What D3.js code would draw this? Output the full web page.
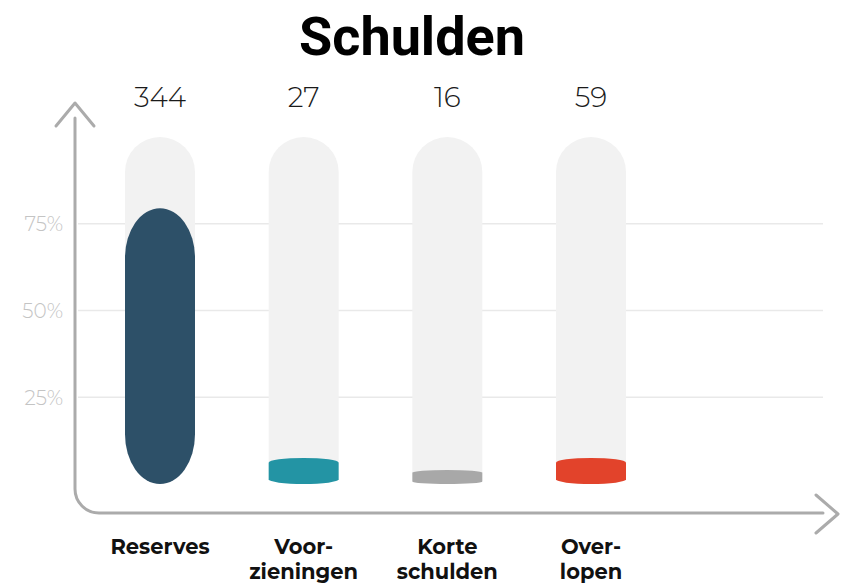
<!DOCTYPE html>
<html>
<head>
<meta charset="utf-8">
<script src="https://cdn.jsdelivr.net/npm/d3@7"></script>
<style>
  html, body { margin: 0; padding: 0; background: #ffffff; }
  svg { display: block; }
</style>
</head>
<body>
<svg id="chart" width="843" height="585"></svg>
<script>
// ---- data ----
const categories = ["Reserves", "Voorzieningen", "Korte schulden", "Overlopen"];
const labelLines = [["Reserves"], ["Voor-", "zieningen"], ["Korte", "schulden"], ["Over-", "lopen"]];
const amounts = [344, 27, 16, 59];
const fillPercent = [79.5, 7.5, 4, 7.5];
const barColors = ["#2d5068", "#2394a4", "#a8a8a8", "#e2432b"];
const tickValues = [25, 50, 75];
const titleText = "Schulden";

// ---- layout ----
const svg = d3.select("#chart");
const barW = 70;

const x = d3.scalePoint().domain(categories).range([160, 591]);
const y = d3.scaleLinear().domain([0, 100]).range([484, 137]);
const axisColor = "#ababab";
const barRy = v => Math.max(2.5, 0.18 * (y(0) - y(v)));

// title
svg.append("text")
  .attr("x", 412).attr("y", 55)
  .attr("text-anchor", "middle")
  .style("font-family", "Roboto, 'Open Sans', sans-serif")
  .style("font-weight", 700)
  .style("font-size", "54px")
  .attr("fill", "#000")
  .text(titleText);

// gridlines + tick labels
const yAxis = d3.axisLeft(y).tickValues(tickValues).tickFormat(d => d + "%").tickSize(0).tickPadding(0);
const gAxis = svg.append("g").attr("transform", "translate(63,0)").call(yAxis);
gAxis.select(".domain").remove();
gAxis.selectAll("text")
  .attr("dy", "0.35em")
  .style("font-family", "Montserrat, Lato, 'Open Sans', sans-serif")
  .style("font-weight", 300)
  .style("font-size", "20px")
  .attr("fill", "#c4c4c4");

svg.append("g").selectAll("line")
  .data(tickValues).join("line")
  .attr("x1", 78).attr("x2", 823)
  .attr("y1", d => y(d)).attr("y2", d => y(d))
  .attr("stroke", "#e9e9e9").attr("stroke-width", 1.5);

// background tracks (rounded top; end hidden under the value bar)
svg.append("g").selectAll("path")
  .data(categories).join("path")
  .attr("d", (d, i) => {
    const cx = x(d), r = barW / 2, top = y(100);
    const bot = y(fillPercent[i]) + barRy(fillPercent[i]);
    return `M${cx - r},${bot} V${top + r} A${r},${r} 0 0 1 ${cx + r},${top + r} V${bot} Z`;
  })
  .attr("fill", "#f2f2f2");

// value bars
svg.append("g").selectAll("rect")
  .data(categories).join("rect")
  .attr("x", d => x(d) - barW / 2)
  .attr("width", barW)
  .attr("y", (d, i) => y(fillPercent[i]))
  .attr("height", (d, i) => y(0) - y(fillPercent[i]))
  .attr("rx", barW / 2)
  .attr("ry", (d, i) => barRy(fillPercent[i]))
  .attr("fill", (d, i) => barColors[i]);

// value labels
svg.append("g").selectAll("text")
  .data(categories).join("text")
  .attr("x", d => x(d)).attr("y", 107)
  .attr("text-anchor", "middle")
  .style("font-family", "Montserrat, Lato, 'Open Sans', sans-serif")
  .style("font-weight", 300)
  .style("font-size", "28px")
  .attr("fill", "#1a1a1a")
  .text((d, i) => amounts[i]);

// category labels
const catG = svg.append("g").selectAll("text")
  .data(categories).join("text")
  .attr("text-anchor", "middle")
  .style("font-family", "Montserrat, 'Open Sans', sans-serif")
  .style("font-weight", 700)
  .style("font-size", "21px")
  .attr("fill", "#111");
catG.each(function(d, i) {
  d3.select(this).selectAll("tspan")
    .data(labelLines[i]).join("tspan")
    .attr("x", x(d))
    .attr("y", (t, j) => 554 + j * 25)
    .text(t => t);
});

// axes with arrows
const axisG = svg.append("g")
  .attr("fill", "none").attr("stroke", axisColor)
  .attr("stroke-width", 3).attr("stroke-linecap", "round").attr("stroke-linejoin", "round");
const r = 24;
axisG.append("path")
  .attr("d", `M75,118 V${513 - r} A${r},${r} 0 0 0 ${75 + r},513 H823`);
axisG.append("path").attr("d", "M56,126 L75,103 L94,126");
axisG.append("path").attr("d", "M816,495 L838,514 L816,533");
</script>
</body>
</html>
